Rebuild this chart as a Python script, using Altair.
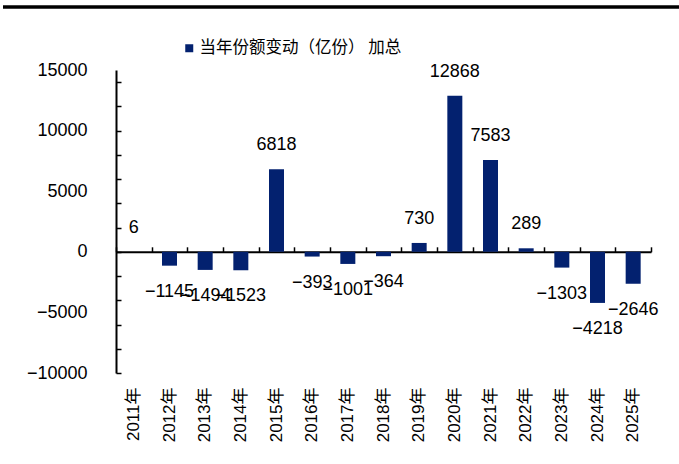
import altair as alt
import pandas as pd

# Annual change in fund shares (100 million units), aggregated
years = ["2011年", "2012年", "2013年", "2014年", "2015年", "2016年", "2017年", "2018年",
         "2019年", "2020年", "2021年", "2022年", "2023年", "2024年", "2025年"]
values = [6, -1145, -1494, -1523, 6818, -393, -1001, -364, 730, 12868, 7583, 289,
          -1303, -4218, -2646]
series_name = "当年份额变动（亿份） 加总"

label_ticks = [15000, 10000, 5000, 0, -5000, -10000]
minor_ticks = list(range(-10000, 15000, 2000))

df = pd.DataFrame({"year": years, "value": values, "series": series_name})

W, H = 535, 303
NAVY = "#03216F"
NUM_FONT = "Liberation Sans"
CJK_FONT = "'Liberation Sans', 'Noto Sans CJK SC'"

y_scale = alt.Scale(domain=[-10000, 15000], nice=False, zero=False)
x_scale = alt.Scale(paddingInner=0, paddingOuter=0)

base = alt.Chart(df)

bars = base.mark_bar(size=15).encode(
    x=alt.X("year:N", sort=years, scale=x_scale, title=None,
            axis=alt.Axis(orient="bottom", labelAngle=-90, ticks=False, domain=False,
                          labelPadding=14, labelFontSize=17, labelFont=CJK_FONT,
                          labelColor="black")),
    y=alt.Y("value:Q", scale=y_scale, title=None,
            axis=alt.Axis(orient="left", values=label_ticks, format="d", ticks=False,
                          tickSize=0, grid=False, domain=True, domainColor="black",
                          domainWidth=2, labelPadding=29, labelFontSize=18,
                          labelFont=NUM_FONT, labelColor="black")),
    color=alt.Color("series:N", scale=alt.Scale(range=[NAVY]),
                    legend=alt.Legend(title=None, orient="none", legendX=65, legendY=-30,
                                      symbolType="square", symbolSize=64,
                                      symbolStrokeWidth=0, labelFontSize=16.5,
                                      labelFont="Noto Sans CJK SC", labelColor="black",
                                      labelOffset=2, labelLimit=0)),
)

# positive values: label above the bar; its x axis draws the zero line with boundary ticks
pos_text = base.transform_filter("datum.value >= 0").mark_text(
    dy=-24, fontSize=18, font=NUM_FONT, color="black", baseline="middle"
).encode(
    x=alt.X("year:N", sort=years, scale=x_scale, title=None,
            axis=alt.Axis(orient="top", offset=-0.6 * H, labels=False, domain=True,
                          domainColor="black", domainWidth=2, ticks=True, tickBand="extent",
                          tickSize=5, tickWidth=1.5, tickColor="black", grid=False)),
    y=alt.Y("value:Q", scale=y_scale, axis=None),
    text=alt.Text("value:Q", format="d"),
)

# negative values: label below the bar; its y axis draws the inward minor ticks
neg_text = base.transform_filter("datum.value < 0").mark_text(
    dy=26, fontSize=18, font=NUM_FONT, color="black", baseline="middle"
).encode(
    x=alt.X("year:N", sort=years, scale=x_scale, axis=None),
    y=alt.Y("value:Q", scale=y_scale, title=None,
            axis=alt.Axis(orient="right", offset=-W, values=minor_ticks, labels=False,
                          domain=False, ticks=True, tickSize=5, tickWidth=1.5,
                          tickColor="black", grid=False)),
    text=alt.Text("value:Q", format="d"),
)

# header rule across the top of the page
top_rule = alt.Chart(pd.DataFrame({"k": [0]})).mark_rule(
    color="black", strokeWidth=3.5, clip=False
).encode(x=alt.value(-113), x2=alt.value(679 - 116), y=alt.value(-63))

chart = alt.layer(bars, pos_text, neg_text, top_rule).resolve_axis(
    x="independent", y="independent"
).properties(
    width=W, height=H,
    autosize=alt.AutoSizeParams(type="none"),
    padding={"left": 116, "top": 70, "right": 28, "bottom": 91},
    background="white",
).configure_view(stroke=None)

chart.save("out.html", embed_options={"renderer": "svg", "actions": False})
